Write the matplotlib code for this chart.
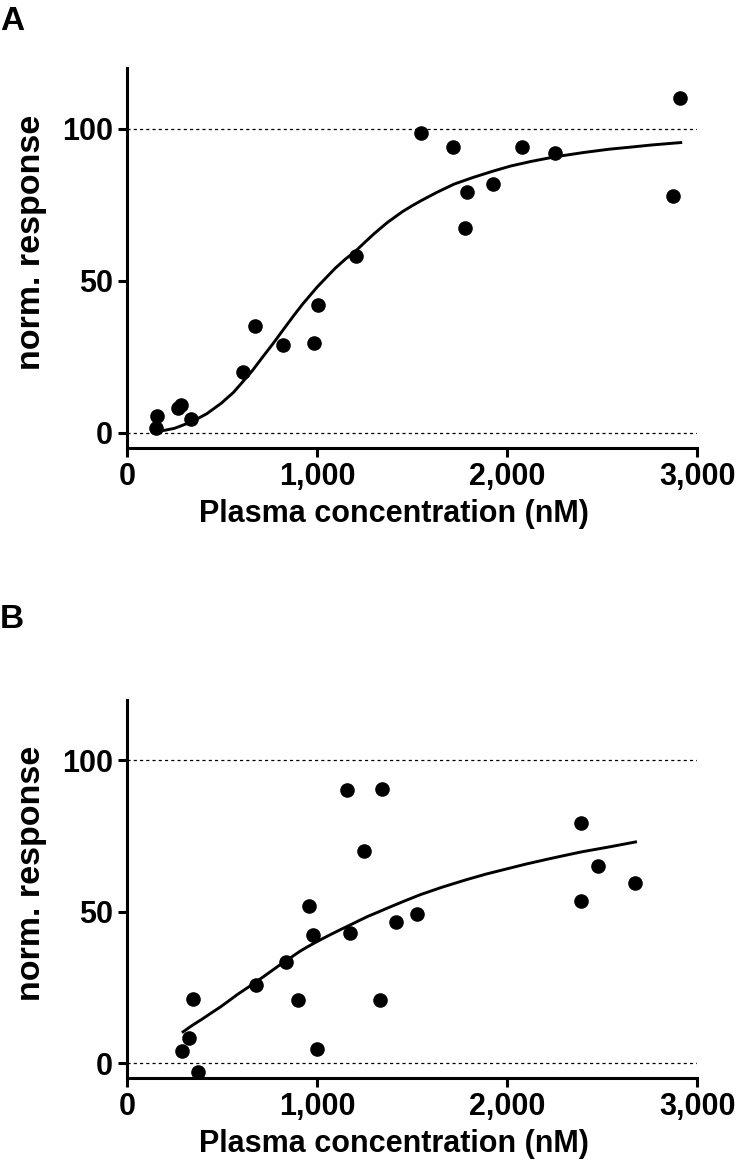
import matplotlib.pyplot as plt

plt.rcParams['font.family'] = ['Liberation Sans', 'DejaVu Sans']
plt.rcParams['font.weight'] = 'bold'

# --- data panel A ---
conc_a = [150, 159, 266, 283, 339, 609, 675, 823, 984, 1006, 1203, 1546, 1715,
          1780, 1788, 1926, 2080, 2251, 2873, 2910]
resp_a = [1.7, 5.7, 8.3, 9.1, 4.4, 20.1, 35.2, 28.8, 29.5, 41.9, 58.3, 98.8, 94.0,
          67.5, 79.1, 82.0, 94.2, 92.0, 77.9, 110.3]
fit_x_a = [155, 250, 339, 420, 497, 560, 609, 660, 712, 770, 823, 880, 926, 1001,
           1050, 1098, 1150, 1203, 1250, 1300, 1370, 1450, 1500, 1548, 1630, 1720,
           1820, 1926, 2020, 2127, 2251, 2400, 2535, 2650, 2760, 2914]
fit_y_a = [0.3, 1.5, 3.6, 6.3, 9.8, 13.3, 16.8, 20.5, 24.8, 29.5, 34.0, 38.8, 42.5, 48.0,
           51.2, 54.3, 57.2, 59.8, 62.6, 65.5, 69.2, 72.8, 74.7, 76.4, 79.1, 81.8,
           84.0, 86.1, 87.8, 89.3, 90.8, 92.2, 93.3, 94.0, 94.7, 95.5]

# --- data panel B ---
conc_b = [289, 328, 345, 372, 677, 838, 900, 958, 979, 1000, 1160, 1175, 1245,
          1330, 1344, 1414, 1526, 2390, 2390, 2480, 2671]
resp_b = [4.2, 8.5, 21.1, -2.8, 25.9, 33.4, 21.0, 51.9, 42.5, 4.7, 90.4, 42.9, 70.1,
          20.9, 90.6, 46.7, 49.4, 79.5, 53.7, 65.1, 59.5]
fit_x_b = [295, 340, 400, 445, 491, 535, 580, 630, 677, 720, 760, 800, 842, 875, 910,
           945, 982, 1030, 1080, 1125, 1175, 1220, 1270, 1320, 1368, 1460, 1544,
           1660, 1784, 1890, 1998, 2100, 2212, 2300, 2390, 2470, 2550, 2676]
fit_y_b = [10.4, 12.4, 14.8, 16.7, 18.6, 20.6, 22.7, 24.8, 26.8, 28.7, 30.5, 32.3, 34.0,
           35.5, 37.0, 38.3, 39.6, 41.2, 42.8, 44.2, 45.7, 47.1, 48.6, 49.9, 51.2, 53.6,
           55.7, 58.2, 60.6, 62.5, 64.2, 65.8, 67.4, 68.6, 69.8, 70.7, 71.6, 73.1]

xticks = [0, 1000, 2000, 3000]
xtick_labels = ['0', '1,000', '2,000', '3,000']
yticks = [0, 50, 100]
ytick_labels = ['0', '50', '100']

fig = plt.figure(figsize=(7.36, 11.72), dpi=100)
ax_a = fig.add_axes([0.1726, 0.6177, 0.7745, 0.3242])
ax_b = fig.add_axes([0.1726, 0.0798, 0.7745, 0.3230])

panels = [(ax_a, conc_a, resp_a, fit_x_a, fit_y_a),
          (ax_b, conc_b, resp_b, fit_x_b, fit_y_b)]

for ax, cx, ry, fx, fy in panels:
    # reference lines at 0 and 100
    for yref in [0, 100]:
        ax.axhline(yref, color='black', lw=0.9, ls=(0, (2.5, 2.5)), zorder=1)
    ax.plot(fx, fy, color='black', lw=2.1, zorder=2, solid_joinstyle='round')
    ax.plot(cx, ry, 'o', color='black', ms=10.5, mec='none', zorder=3, clip_on=False)

    ax.set_xlim(0, 3000)
    ax.set_ylim(-5, 120)
    ax.set_xticks(xticks)
    ax.set_xticklabels(xtick_labels)
    ax.set_yticks(yticks)
    ax.set_yticklabels(ytick_labels)
    ax.tick_params(direction='out', length=6.5, width=2.2, labelsize=22, pad=3.5)
    for s in ['top', 'right']:
        ax.spines[s].set_visible(False)
    for s in ['left', 'bottom']:
        ax.spines[s].set_linewidth(2.2)

    ax.set_xlabel('Plasma concentration (nM)', fontsize=22, fontweight='bold')
    ax.set_ylabel('norm. response', fontsize=24.5, fontweight='bold')
    ax.xaxis.set_label_coords(0.468, -0.134)
    ax.yaxis.set_label_coords(-0.140, 0.542)

fig.text(0.0, 0.995, 'A', fontsize=24, fontweight='bold', va='top', ha='left')
fig.text(0.0, 0.485, 'B', fontsize=24, fontweight='bold', va='top', ha='left')

fig.savefig('out.png', dpi=100)
